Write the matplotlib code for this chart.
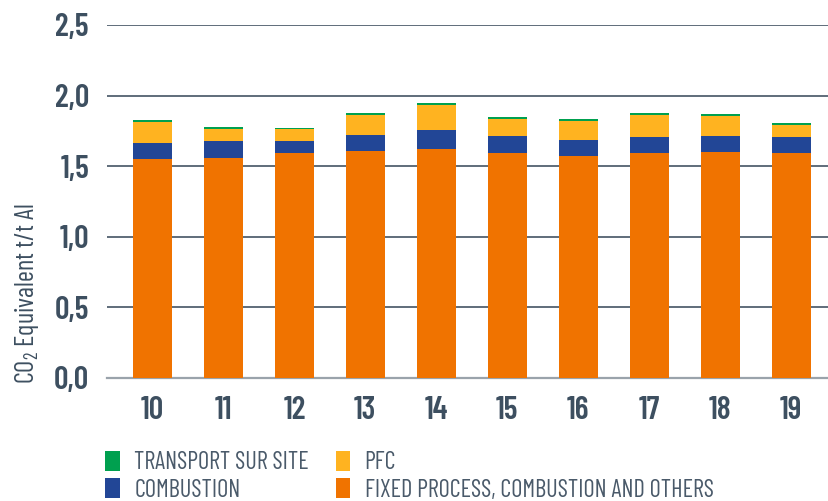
import matplotlib
matplotlib.use('Agg')
from matplotlib import pyplot as plt
import numpy as np

years = ['10', '11', '12', '13', '14', '15', '16', '17', '18', '19']
fixedProcess = [1.55, 1.56, 1.59, 1.61, 1.62, 1.59, 1.57, 1.59, 1.60, 1.59]
combustion = [0.113, 0.120, 0.085, 0.113, 0.134, 0.121, 0.114, 0.114, 0.113, 0.114]
pfc = [0.149, 0.085, 0.085, 0.142, 0.177, 0.120, 0.134, 0.156, 0.142, 0.085]
transport = [0.014, 0.015, 0.014, 0.014, 0.015, 0.014, 0.014, 0.014, 0.014, 0.014]
yTicks = [0.0, 0.5, 1.0, 1.5, 2.0, 2.5]
yTickLabels = ['0,0', '0,5', '1,0', '1,5', '2,0', '2,5']

font = ['Barlow Condensed', 'Roboto Condensed', 'DejaVu Sans']
plt.rcParams['font.family'] = font
plt.rcParams['mathtext.fontset'] = 'custom'
plt.rcParams['mathtext.rm'] = 'Barlow Condensed'
textColor = '#3d4f60'

fig = plt.figure(figsize=(8.29, 5.01), dpi=100)
ax = fig.add_axes([107 / 829, 1 - 378 / 501, 721 / 829, 353 / 501])

ind = np.arange(len(years))
width = 0.55
bottom1 = np.array(fixedProcess)
bottom2 = bottom1 + np.array(combustion)
bottom3 = bottom2 + np.array(pfc)
ax.bar(ind, fixedProcess, width, color='#f07300', zorder=3, label='FIXED PROCESS, COMBUSTION AND OTHERS')
ax.bar(ind, combustion, width, bottom=bottom1, color='#224696', zorder=3, label='COMBUSTION')
ax.bar(ind, pfc, width, bottom=bottom2, color='#ffb320', zorder=3, label='PFC')
ax.bar(ind, transport, width, bottom=bottom3, color='#00a04f', zorder=3, label='TRANSPORT SUR SITE')

ax.set_xlim(-0.64, 9.52)
ax.set_ylim(0, 2.5)
ax.set_yticks(yTicks)
ax.set_yticklabels(yTickLabels)
ax.set_xticks(ind)
ax.set_xticklabels(years)
ax.grid(axis='y', color='#5f6d7a', linewidth=1.4, zorder=0)
for s in ['top', 'right', 'left']:
    ax.spines[s].set_visible(False)
ax.spines['bottom'].set_color('#9aa3ab')
ax.spines['bottom'].set_linewidth(1.6)
ax.tick_params(axis='y', length=0, pad=13, labelsize=23, labelcolor=textColor)
ax.tick_params(axis='x', length=0, pad=13, labelsize=23, labelcolor=textColor)
for lbl in ax.get_xticklabels() + ax.get_yticklabels():
    lbl.set_fontweight('semibold')

fig.text(27 / 829, 1 - 293 / 501, r'CO$_\mathregular{2}$ Equivalent t/t Al', rotation=90,
         ha='center', va='center', fontsize=19, color=textColor)

handles, labels = ax.get_legend_handles_labels()
order = [3, 1, 2, 0]
leg = fig.legend([handles[i] for i in order], [labels[i] for i in order], ncol=2,
                 loc='upper left', bbox_to_anchor=(105 / 829, 1 - 451 / 501),
                 frameon=False, fontsize=17.5, handlelength=0.6, handleheight=0.9,
                 handletextpad=0.6, columnspacing=1.1, labelspacing=0.15,
                 borderpad=0, borderaxespad=0)
for t in leg.get_texts():
    t.set_color('#4a5a6a')

fig.savefig('out.png', dpi=100)
